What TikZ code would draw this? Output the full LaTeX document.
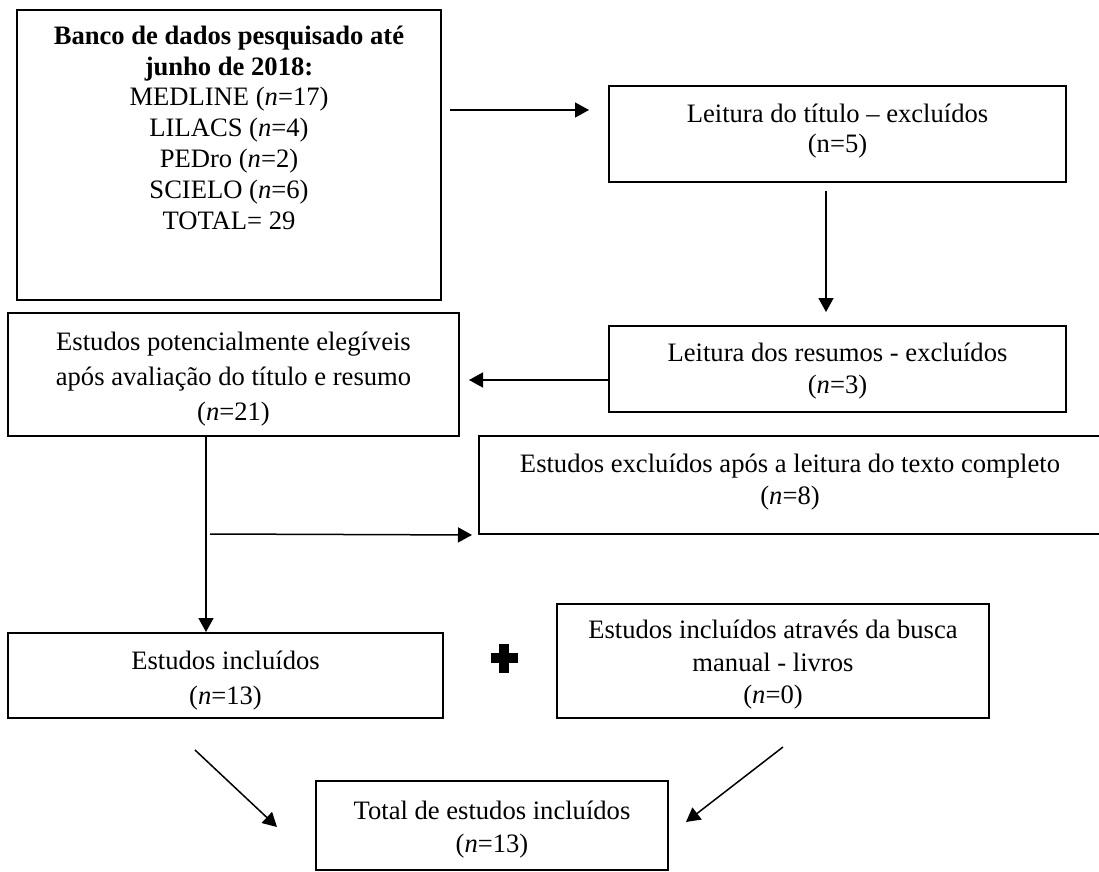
\documentclass[tikz,border=0pt]{standalone}
\usepackage{fontspec}
\setmainfont{Liberation Serif}
\usetikzlibrary{arrows.meta,calc}
\begin{document}
\begin{tikzpicture}[x=0.5pt,y=-0.5pt,
  box/.style={draw=black,line width=1pt,inner sep=0pt,align=center,anchor=center},
  arr/.style={line width=0.75pt,-{Triangle[length=7pt,width=7.5pt]}},
  txt/.style={font=\fontsize{13.3}{#1}\selectfont}]
\useasboundingbox (0,0) rectangle (1099,872);
\fill[white] (0,0) rectangle (1099,872);

\node[box,minimum width=212pt,minimum height=145pt,txt=15.4] (b1) at (229,155)
  {\textbf{Banco de dados pesquisado até}\\\textbf{junho de 2018:}\\MEDLINE (\textit{n}=17)\\LILACS (\textit{n}=4)\\PEDro (\textit{n}=2)\\SCIELO (\textit{n}=6)\\TOTAL= 29\rule[-27.5pt]{0pt}{0pt}};
\node[box,minimum width=228.5pt,minimum height=48pt,txt=15] (b2) at (837.5,134)
  {Leitura do título – excluídos\\(n=5)\rule[-6pt]{0pt}{0pt}};
\node[box,minimum width=228.5pt,minimum height=43pt,txt=16] (b4) at (837.5,369)
  {\rule{0pt}{11.5pt}Leitura dos resumos - excluídos\\(\textit{n}=3)};
\node[box,minimum width=225.5pt,minimum height=61.5pt,txt=17.5] (b3) at (233.5,374.5)
  {\rule{0pt}{14.3pt}Estudos potencialmente elegíveis\\após avaliação do título e resumo\\(\textit{n}=21)};
\node[box,minimum width=311pt,minimum height=49pt,txt=16] (b5) at (790,485)
  {Estudos excluídos após a leitura do texto completo\\(\textit{n}=8)\rule[-6pt]{0pt}{0pt}};
\node[box,minimum width=217.5pt,minimum height=42.5pt,txt=17.5] (b6) at (225.5,675.5)
  {\rule{0pt}{14.3pt}Estudos incluídos\\(\textit{n}=13)};
\node[box,minimum width=216pt,minimum height=57pt,txt=16.25] (b7) at (773,661)
  {\rule{0pt}{13.3pt}Estudos incluídos através da busca\\manual - livros\\(\textit{n}=0)};
\node[box,minimum width=176pt,minimum height=44.5pt,txt=16.5] (b8) at (492,825.5)
  {\rule{0pt}{13.3pt}Total de estudos incluídos\\(\textit{n}=13)};

% plus sign
\fill[black] (499,644) rectangle (509,673);
\fill[black] (490.5,653) rectangle (517.5,663);

% helper levels
\coordinate (l1) at (0,110);
\coordinate (vx) at (826,0);
\coordinate (l3) at (0,380);
\coordinate (v4) at (206,0);
\coordinate (j5) at (210,534);
\coordinate (s6) at (195,750);
\coordinate (e6) at (277,827);
\coordinate (s7) at (783,747);
\coordinate (e7) at (686,822);

\draw[arr,shorten <=4pt,shorten >=9.5pt] (b1.east |- l1) -- (b2.west |- l1);
\draw[arr,shorten <=4pt,shorten >=6.5pt] (vx |- b2.south) -- (vx |- b4.north);
\draw[arr,shorten >=4.5pt] (b4.west |- l3) -- (b3.east |- l3);
\draw[arr] (v4 |- b3.south) -- (v4 |- b6.north);
\draw[arr,shorten >=3pt] (j5) -- (b5.south west);
\draw[arr] (s6) -- (e6);
\draw[arr] (s7) -- (e7);
\end{tikzpicture}
\end{document}
